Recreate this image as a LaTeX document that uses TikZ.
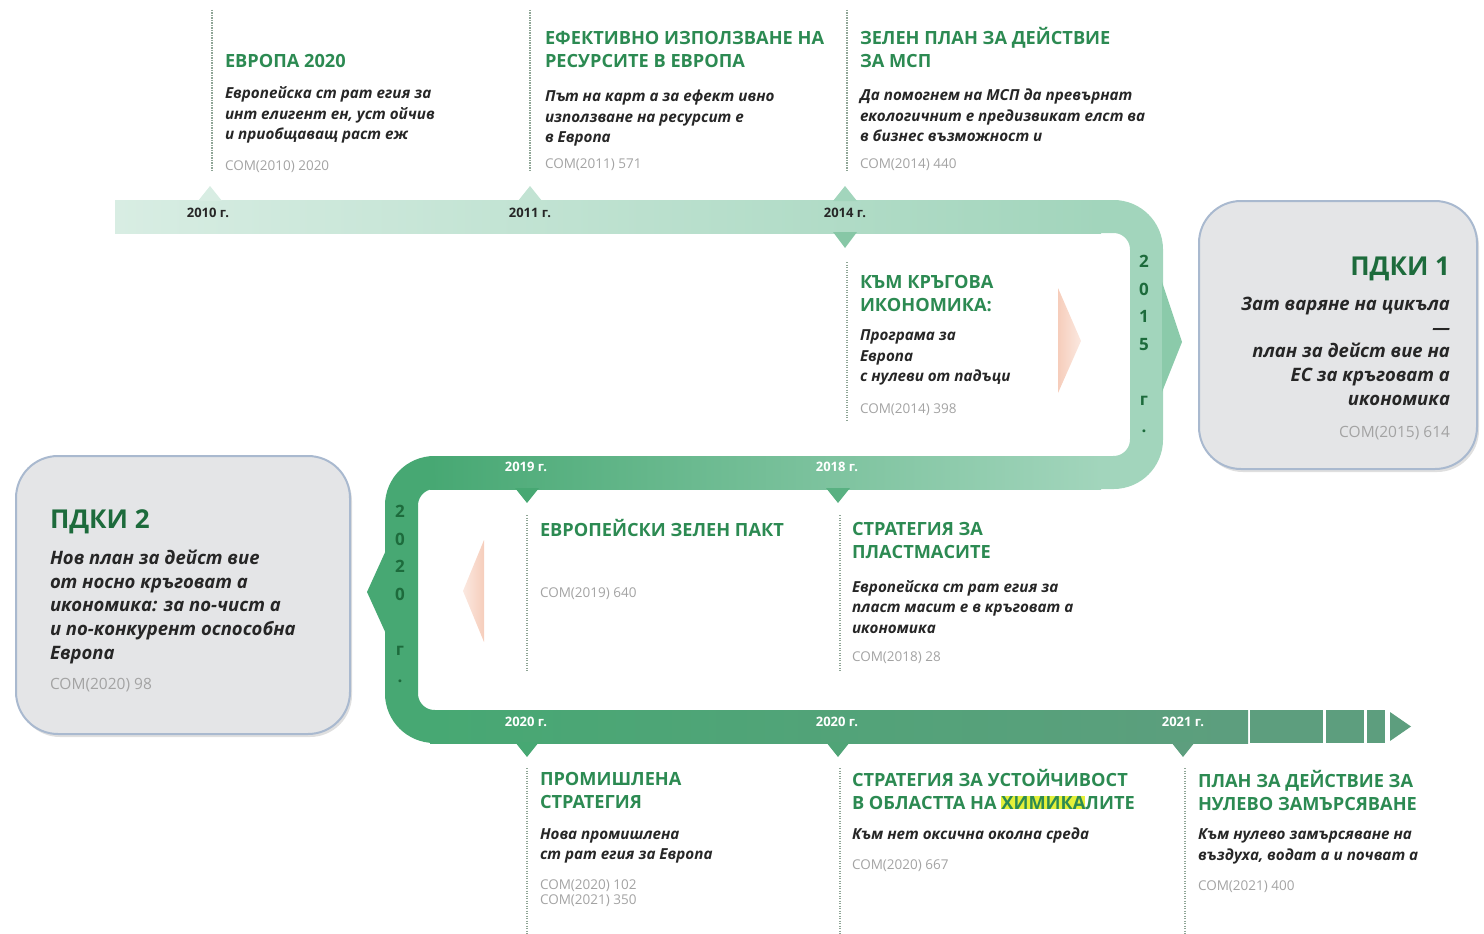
\documentclass[tikz,border=0pt]{standalone}
\usepackage{fontspec}
\setmainfont{Open Sans}
\usepackage{tikz}
\usetikzlibrary{positioning,shadows}
\usepackage{xcolor}
\definecolor{ecgreen}{HTML}{2C8A52}
\definecolor{ecdark}{HTML}{1D6B3C}
\definecolor{ectext}{HTML}{262626}
\definecolor{ecgrey}{HTML}{A3A3A3}
\definecolor{ecdot}{HTML}{8FA596}
\definecolor{bandlight}{HTML}{D8EDE3}
\definecolor{bandmid}{HTML}{A2D5BC}
\definecolor{bandstrong}{HTML}{47A873}
\definecolor{bandgrey}{HTML}{5D9E7E}
\definecolor{pdkifill}{HTML}{E4E5E7}
\definecolor{pdkiedge}{HTML}{A9B9CF}
\definecolor{peach}{HTML}{F6CDBB}
\definecolor{hlyellow}{HTML}{E4F03A}
\newcommand{\hlchem}[1]{{\setlength{\fboxsep}{0pt}\colorbox{hlyellow}{#1}}}
\tikzset{
  struts/.style={execute at begin node=\strut, execute at end node=\strut},
  evtitle/.style={struts, anchor=north west, align=left, text=ecgreen,
                  font=\bfseries\fontsize{18.2}{23}\selectfont},
  evdesc/.style={struts, anchor=north west, align=left, text=ectext,
                 font=\bfseries\itshape\fontsize{15.2}{20.5}\selectfont},
  evcom/.style={struts, anchor=north west, align=left, text=ecgrey,
                font=\fontsize{13.5}{15}\selectfont},
  yearlbl/.style={font=\bfseries\fontsize{13}{14}\selectfont},
  yearcol/.style={text=ecdark, align=center,
                  font=\bfseries\fontsize{17}{27.5}\selectfont},
  pdki/.style={draw=pdkiedge, line width=2pt, fill=pdkifill, rounded corners=42pt,
               drop shadow={shadow xshift=2pt, shadow yshift=-3pt, opacity=0.25}},
  pdkititle/.style={struts, text=ecdark, font=\bfseries\fontsize{26}{30}\selectfont},
  pdkidesc/.style={struts, text=ectext, font=\bfseries\itshape\fontsize{18.5}{23.75}\selectfont},
  pdkicom/.style={struts, text=ecgrey, font=\fontsize{15.5}{18}\selectfont},
  dotline/.style={draw=ecdot, line width=2pt, dash pattern=on 1.2pt off 1.3pt},
}
\begin{document}
\begin{tikzpicture}[x=1pt, y=-1pt, every node/.style={inner sep=0pt, outer sep=0pt}]
\useasboundingbox (0,0) rectangle (1484,934);

% timeline band
\shade[left color=bandlight, right color=bandmid] (115,200) rectangle (1101,233);
\draw[bandmid, line width=33pt, rounded corners=33pt] (1100,216.5) -- (1146.5,216.5) -- (1146.5,472.5) -- (1100,472.5);
\fill[bandmid!75!bandstrong] (1162,282) -- (1182,342) -- (1162,392) -- cycle;
\shade[left color=bandstrong, right color=bandmid] (430,456) rectangle (1101,489);
\draw[bandstrong, line width=33pt, rounded corners=33pt] (431,472.5) -- (401.5,472.5) -- (401.5,726.5) -- (431,726.5);
\fill[bandstrong] (387,548) -- (367,592) -- (387,636) -- cycle;
\shade[left color=bandstrong, right color=bandgrey] (430,710) rectangle (1248,743);
\fill[bandgrey] (1250,710) rectangle (1323,743);
\fill[bandgrey] (1326,710) rectangle (1364,743);
\fill[bandgrey] (1367,710) rectangle (1385,743);
\fill[bandgrey] (1390,712) -- (1411,726.5) -- (1390,741) -- cycle;

% ticks
\fill[bandlight] (198,201) -- (210,186) -- (222,201) -- cycle;
\fill[bandlight!60!bandmid] (518,201) -- (530,186) -- (542,201) -- cycle;
\fill[bandmid] (833,201) -- (845,186) -- (857,201) -- cycle;
\fill[bandmid!70!bandstrong] (833,232) -- (845,248) -- (857,232) -- cycle;
\fill[bandstrong] (515,488) -- (527,503) -- (539,488) -- cycle;
\fill[bandstrong!80!bandmid] (826,488) -- (838,503) -- (850,488) -- cycle;
\fill[bandstrong] (515,742) -- (527,757) -- (539,742) -- cycle;
\fill[bandstrong!60!bandgrey] (826,742) -- (838,757) -- (850,742) -- cycle;
\fill[bandgrey] (1171,742) -- (1183,757) -- (1195,742) -- cycle;

% direction hints
\shade[left color=peach, right color=peach!45] (1058,288) -- (1081,341) -- (1058,393) -- cycle;
\shade[left color=peach!45, right color=peach] (484,540) -- (463,591) -- (484,642) -- cycle;

% dotted leaders
\draw[dotline] (212,10) -- (212,172);
\draw[dotline] (530,10) -- (530,172);
\draw[dotline] (847,10) -- (847,172);
\draw[dotline] (847,262) -- (847,420);
\draw[dotline] (527,515) -- (527,672);
\draw[dotline] (840,515) -- (840,672);
\draw[dotline] (527,768) -- (527,934);
\draw[dotline] (840,768) -- (840,934);
\draw[dotline] (1185,768) -- (1185,934);

% years on the band
\node[yearlbl, text=ectext] (y2010) at (208,213) {2010 г.};
\node[yearlbl, text=ectext] (y2011) at (530,213) {2011 г.};
\node[yearlbl, text=ectext] (y2014) at (845,213) {2014 г.};
\node[yearlbl, text=white] (y2019) at (526,467) {2019 г.};
\node[yearlbl, text=white] (y2018) at (837,467) {2018 г.};
\node[yearlbl, text=white] (y2020a) at (526,722) {2020 г.};
\node[yearlbl, text=white] (y2020b) at (837,722) {2020 г.};
\node[yearlbl, text=white] (y2021) at (1183,722) {2021 г.};
\node[yearcol] (y2015) at (1144,344) {2\\0\\1\\5\\[27.5pt]г\\.};
\node[yearcol] (y2020) at (400,594) {2\\0\\2\\0\\[27.5pt]г\\.};

% events
\node[evtitle] (e1t) at (225,51) {ЕВРОПА 2020};
\node[evdesc, below=13pt of e1t.south west, anchor=north west] (e1d) {Европейска ст рат егия за\\инт елигент ен, уст ойчив\\и приобщаващ раст еж};
\node[evcom, below=13.5pt of e1d.south west, anchor=north west] (e1c) {COM(2010) 2020};

\node[evtitle] (e2t) at (545,31) {ЕФЕКТИВНО ИЗПОЛЗВАНЕ НА\\РЕСУРСИТЕ В ЕВРОПА};
\node[evdesc, below=16pt of e2t.south west, anchor=north west] (e2d) {Път на карт а за ефект ивно\\използване на ресурсит е\\в Европа};
\node[evcom, below=9.5pt of e2d.south west, anchor=north west] (e2c) {COM(2011) 571};

\node[evtitle] (e3t) at (860,27) {ЗЕЛЕН ПЛАН ЗА ДЕЙСТВИЕ\\ЗА МСП};
\node[evdesc, below=15pt of e3t.south west, anchor=north west] (e3d) {Да помогнем на МСП да превърнат\\екологичнит е предизвикат елст ва\\в бизнес възможност и};
\node[evcom, below=10.5pt of e3d.south west, anchor=north west] (e3c) {COM(2014) 440};

\node[evtitle] (e4t) at (860,275.5) {КЪМ КРЪГОВА\\ИКОНОМИКА:};
\node[evdesc, below=11.5pt of e4t.south west, anchor=north west] (e4d) {Програма за\\Европа\\с нулеви от падъци};
\node[evcom, below=14.5pt of e4d.south west, anchor=north west] (e4c) {COM(2014) 398};

\node[evtitle] (e5t) at (540,519) {ЕВРОПЕЙСКИ ЗЕЛЕН ПАКТ};
\node[evcom, below=43.5pt of e5t.south west, anchor=north west] (e5c) {COM(2019) 640};

\node[evtitle] (e6t) at (852,522.5) {СТРАТЕГИЯ ЗА\\ПЛАСТМАСИТЕ};
\node[evdesc, below=15pt of e6t.south west, anchor=north west] (e6d) {Европейска ст рат егия за\\пласт масит е в кръговат а\\икономика};
\node[evcom, below=11pt of e6d.south west, anchor=north west] (e6c) {COM(2018) 28};

\node[evtitle] (e7t) at (540,772.5) {ПРОМИШЛЕНА\\СТРАТЕГИЯ};
\node[evdesc, below=13pt of e7t.south west, anchor=north west] (e7d) {Нова промишлена\\ст рат егия за Европа};
\node[evcom, below=13.5pt of e7d.south west, anchor=north west] (e7c) {COM(2020) 102\\COM(2021) 350};

\node[evtitle] (e8t) at (852,769) {СТРАТЕГИЯ ЗА УСТОЙЧИВОСТ\\В ОБЛАСТТА НА \hlchem{ХИМИКА}ЛИТЕ};
\node[evdesc, below=9pt of e8t.south west, anchor=north west] (e8d) {Към нет оксична околна среда};
\node[evcom, below=13pt of e8d.south west, anchor=north west] (e8c) {COM(2020) 667};

\node[evtitle] (e9t) at (1198,770) {ПЛАН ЗА ДЕЙСТВИЕ ЗА\\НУЛЕВО ЗАМЪРСЯВАНЕ};
\node[evdesc, below=12pt of e9t.south west, anchor=north west] (e9d) {Към нулево замърсяване на\\въздуха, водат а и почват а};
\node[evcom, below=13pt of e9d.south west, anchor=north west] (e9c) {COM(2021) 400};

% action plans
\node[pdki, minimum width=278pt, minimum height=268pt] (pdki1) at (1338,335) {};
\node[pdkititle, anchor=north east] (p1t) at (1450,254) {ПДКИ 1};
\node[pdkidesc, align=right, below=13pt of p1t.south east, anchor=north east] (p1d) {Зат варяне на цикъла\\—\\план за дейст вие на\\ЕС за кръговат а\\икономика};
\node[pdkicom, below=12pt of p1d.south east, anchor=north east] (p1c) {COM(2015) 614};

\node[pdki, minimum width=334pt, minimum height=278pt] (pdki2) at (183,595) {};
\node[pdkititle, anchor=north west] (p2t) at (50,507) {ПДКИ 2};
\node[pdkidesc, align=left, below=13pt of p2t.south west, anchor=north west] (p2d) {Нов план за дейст вие\\от носно кръговат а\\икономика: за по-чист а\\и по-конкурент оспособна\\Европа};
\node[pdkicom, below=10pt of p2d.south west, anchor=north west] (p2c) {COM(2020) 98};
\end{tikzpicture}
\end{document}
